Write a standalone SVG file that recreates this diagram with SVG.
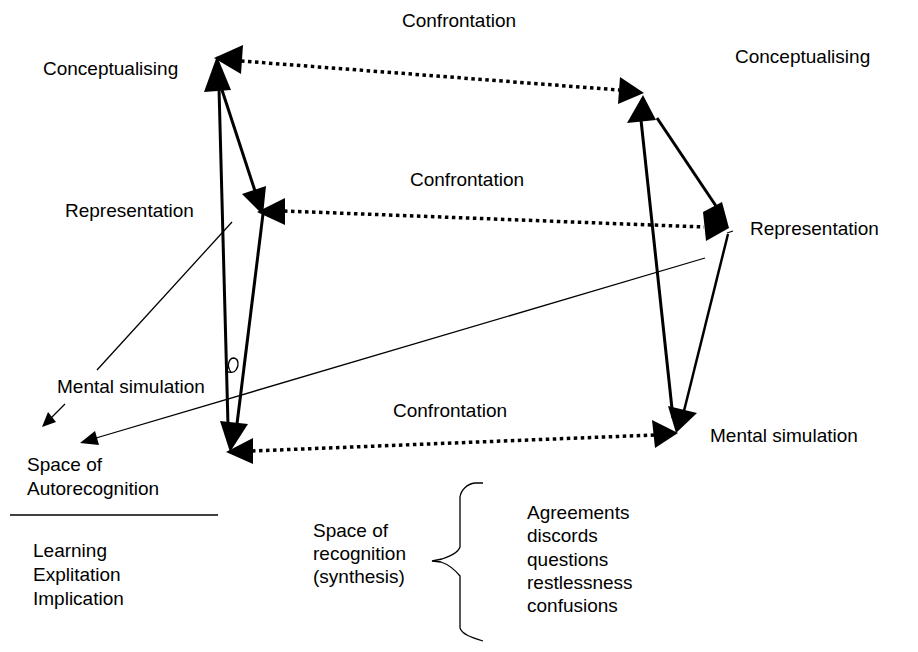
<svg xmlns="http://www.w3.org/2000/svg" width="918" height="652" viewBox="0 0 918 652">
<style>
text{font-family:"Liberation Sans",Arial,sans-serif;font-size:19px;fill:#000}
.thick{stroke:#000;stroke-width:3;fill:none}
.med{stroke:#000;stroke-width:2.5;fill:none}
.thin{stroke:#000;stroke-width:1.3;fill:none}
.dot{stroke:#000;stroke-width:3.5;fill:none;stroke-dasharray:3.5 3.5}
.head{fill:#000;stroke:none}
</style>
<rect width="918" height="652" fill="#fff"/>
<g id="labels">
<g id="conf-top"><text x="402" y="27">Confrontation</text></g>
<g id="concept-left"><text x="43" y="75">Conceptualising</text></g>
<g id="concept-right"><text x="735" y="63">Conceptualising</text></g>
<g id="conf-mid"><text x="410" y="186">Confrontation</text></g>
<g id="repr-left"><text x="65" y="217">Representation</text></g>
<g id="repr-right"><text x="750" y="235">Representation</text></g>
<g id="mental-left"><text x="57" y="393">Mental simulation</text></g>
<g id="conf-bot"><text x="393" y="417">Confrontation</text></g>
<g id="mental-right"><text x="710" y="442">Mental simulation</text></g>
<g id="auto"><text x="27" y="471">Space of</text><text x="27" y="495">Autorecognition</text></g>
<g id="learning"><text x="33" y="557">Learning</text><text x="33" y="581">Explitation</text><text x="33" y="605">Implication</text></g>
<g id="recognition"><text x="313" y="537">Space of</text><text x="313" y="560">recognition</text><text x="313" y="583">(synthesis)</text></g>
<g id="list"><text x="527" y="519">Agreements</text><text x="527" y="542">discords</text><text x="527" y="566">questions</text><text x="527" y="589">restlessness</text><text x="527" y="612">confusions</text></g>
</g>
<g id="connectors">
<!-- dotted confrontation lines -->
<line class="dot" x1="241" y1="61" x2="619" y2="90"/>
<line class="dot" x1="284" y1="211" x2="704" y2="227"/>
<line class="dot" x1="252" y1="451" x2="654" y2="435"/>
<!-- left triangle -->
<line class="thick" x1="219" y1="88" x2="228" y2="425"/>
<line class="thick" x1="222" y1="90" x2="256" y2="194"/>
<line class="thick" x1="263" y1="214" x2="237" y2="424"/>
<!-- right triangle -->
<line class="thick" x1="641" y1="120" x2="673" y2="418"/>
<line class="thick" x1="657" y1="118" x2="716" y2="206"/>
<line class="med" x1="728" y1="234" x2="683" y2="415"/>
<!-- thin lines -->
<line class="thin" x1="232" y1="222" x2="97" y2="370"/>
<line class="thin" x1="65" y1="404" x2="50" y2="419"/>
<line class="thin" x1="705" y1="258" x2="96" y2="438"/>
<path class="thin" d="M231,372 C226,366 229,358 234,358 C239,359 239,366 236,370 C234,373 229,373 227,371"/>
<line class="thin" x1="727" y1="233" x2="733" y2="231"/>
<!-- arrowheads -->
<polygon class="head" points="217,56 204,92 231,90"/>
<polygon class="head" points="214,58 243,45 241,74"/>
<polygon class="head" points="263,215 242,194 266,186"/>
<polygon class="head" points="257,212 285,198 285,225"/>
<polygon class="head" points="230,452 220,421 248,424"/>
<polygon class="head" points="226,452 253,438 253,464"/>
<polygon class="head" points="644,93 620,77 618,104"/>
<polygon class="head" points="643,95 627,123 656,120"/>
<polygon class="head" points="703,212 722,202 729,228 706,241"/>
<polygon class="head" points="676,433 668,406 697,413"/>
<polygon class="head" points="678,433 652,420 655,448"/>
<polygon class="head" points="80,443 95,431 99,445"/>
<polygon class="head" points="42,427 56,422 48,412"/>
</g>
<g id="rule"><line x1="10" y1="515" x2="218" y2="515" stroke="#000" stroke-width="1.3"/></g>
<g id="brace"><path class="thin" d="M483,483 L475,483 C467,484 461,490 460,497 L460,547 C458,553 450,556 442,559 L432,561 L441,562 C450,565 455,570 460,576 L460,628 C462,634 470,637 483,641"/></g>
</svg>
